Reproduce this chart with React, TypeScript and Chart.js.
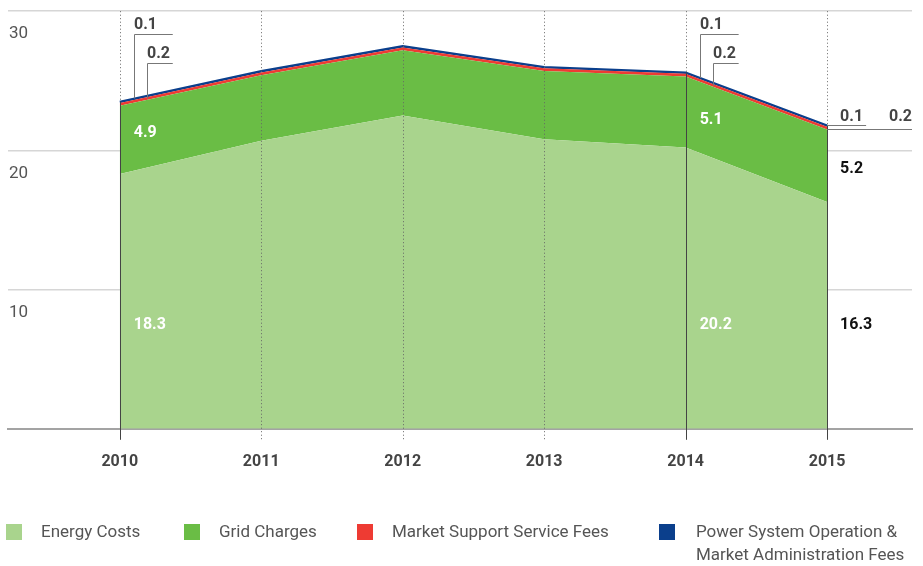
import React, { useEffect, useRef } from "react";
import { Chart, registerables } from "chart.js";

Chart.register(...registerables);

// ---- data ----
const YEARS = [2010, 2011, 2012, 2013, 2014, 2015];
const ENERGY_COSTS = [18.3, 20.7, 22.5, 20.8, 20.2, 16.3];
const GRID_CHARGES = [4.9, 4.7, 4.7, 4.9, 5.1, 5.2];
const MARKET_SUPPORT_FEES = [0.2, 0.2, 0.2, 0.2, 0.2, 0.2];
const POWER_SYSTEM_FEES = [0.1, 0.1, 0.1, 0.1, 0.1, 0.1];
const SERIES_NAMES = [
  "Energy Costs",
  "Grid Charges",
  "Market Support Service Fees",
  "Power System Operation & Market Administration Fees",
];
const LEGEND_LINES = [
  ["Energy Costs"],
  ["Grid Charges"],
  ["Market Support Service Fees"],
  ["Power System Operation &", "Market Administration Fees"],
];
const Y_TICKS = [0, 10, 20, 30];
const LABELED_YEARS = [2010, 2014, 2015];
const COLORS = ["#a9d48d", "#6abd45", "#ee3b33", "#0b3f8c"];

const FONT = "Roboto";

function stackTop(i: number, upto: number) {
  const s = [ENERGY_COSTS, GRID_CHARGES, MARKET_SUPPORT_FEES, POWER_SYSTEM_FEES];
  let v = 0;
  for (let k = 0; k <= upto; k++) v += s[k][i];
  return v;
}

const overlayPlugin = {
  id: "overlay",
  afterDatasetsDraw(chart: any) {
    const { ctx, chartArea: ca, scales } = chart;
    const xs = scales.x;
    const ys = scales.y;
    const pxOf = (i: number) => xs.getPixelForValue(YEARS[i]);
    const interp = (level: number, xp: number, extra = 0) => {
      for (let i = 0; i < YEARS.length - 1; i++) {
        const a = pxOf(i), b = pxOf(i + 1);
        if (xp >= a && xp <= b) {
          const va = stackTop(i, level) + extra;
          const vb = stackTop(i + 1, level) + extra;
          const t = (xp - a) / (b - a);
          return ys.getPixelForValue(va + (vb - va) * t);
        }
      }
      return ys.getPixelForValue(stackTop(YEARS.length - 1, level) + extra);
    };

    ctx.save();
    // vertical year lines
    YEARS.forEach((yr, i) => {
      const px = Math.round(pxOf(i)) + 0.5;
      const topPx = ys.getPixelForValue(stackTop(i, 3));
      const labeled = LABELED_YEARS.includes(yr);
      ctx.lineWidth = 1;
      ctx.strokeStyle = "#666";
      ctx.setLineDash([1, 2.5]);
      ctx.beginPath();
      ctx.moveTo(px, ca.top);
      ctx.lineTo(px, labeled ? topPx : ca.bottom + 11);
      ctx.stroke();
      if (labeled) {
        ctx.setLineDash([]);
        ctx.strokeStyle = "#444";
        ctx.beginPath();
        ctx.moveTo(px, topPx);
        ctx.lineTo(px, ca.bottom + 11);
        ctx.stroke();
      }
    });
    ctx.setLineDash([]);

    ctx.font = `bold 16px ${FONT}`;
    ctx.textBaseline = "alphabetic";
    YEARS.forEach((yr, i) => {
      if (!LABELED_YEARS.includes(yr)) return;
      const px = pxOf(i);
      const last = i === YEARS.length - 1;
      const pso = POWER_SYSTEM_FEES[i].toFixed(1);
      const mss = MARKET_SUPPORT_FEES[i].toFixed(1);
      ctx.strokeStyle = "#777";
      ctx.lineWidth = 1;
      if (!last) {
        const x1 = Math.round(px + 14) + 0.5;
        const x2 = Math.round(px + 27) + 0.5;
        const xe = px + 53;
        const y1 = interp(3, x1);
        const y2 = interp(2, x2, -0.1);
        ctx.beginPath();
        ctx.moveTo(x1, y1);
        ctx.lineTo(x1, 34.5);
        ctx.lineTo(xe, 34.5);
        ctx.moveTo(x2, y2);
        ctx.lineTo(x2, 63.5);
        ctx.lineTo(xe, 63.5);
        ctx.stroke();
        ctx.fillStyle = "#444";
        ctx.textAlign = "left";
        ctx.fillText(pso, x1 - 0.5, 28.5);
        ctx.fillText(mss, x2 - 0.5, 58);
      } else {
        const yb = Math.round(ys.getPixelForValue(stackTop(i, 3))) + 0.5;
        const yr2 = Math.round(ys.getPixelForValue(stackTop(i, 2) - 0.1)) + 1.5;
        ctx.beginPath();
        ctx.moveTo(px, yb);
        ctx.lineTo(px + 39, yb);
        ctx.moveTo(px, yr2);
        ctx.lineTo(ca.right, yr2);
        ctx.stroke();
        ctx.fillStyle = "#444";
        ctx.textAlign = "left";
        ctx.fillText(pso, px + 13, yb - 5);
        ctx.textAlign = "right";
        ctx.fillText(mss, ca.right, yb - 5);
      }
      // inside value labels
      ctx.textAlign = "left";
      ctx.textBaseline = "middle";
      ctx.fillStyle = last ? "#111" : "#ffffff";
      const gridY = yr === 2010 ? 133 : yr === 2014 ? 120 : 169;
      ctx.fillText(GRID_CHARGES[i].toFixed(1), px + (last ? 13 : 14), gridY);
      ctx.fillText(ENERGY_COSTS[i].toFixed(1), px + (last ? 13 : 14), 325);
      ctx.textBaseline = "alphabetic";
    });
    ctx.restore();
  },
  afterDraw(chart: any) {
    const { ctx } = chart;
    const squareX = [6, 184, 357, 659];
    const textX = [41, 219, 392, 696];
    ctx.save();
    ctx.font = `17px ${FONT}`;
    ctx.textAlign = "left";
    ctx.textBaseline = "middle";
    LEGEND_LINES.forEach((lines, k) => {
      ctx.fillStyle = COLORS[k];
      ctx.fillRect(squareX[k], 524, 16, 16);
      ctx.fillStyle = "#555";
      lines.forEach((ln, j) => ctx.fillText(ln, textX[k], 533 + j * 23));
    });
    ctx.restore();
  },
};

export default function App() {
  const ref = useRef<HTMLCanvasElement | null>(null);
  useEffect(() => {
    if (!ref.current) return;
    const series = [ENERGY_COSTS, GRID_CHARGES, MARKET_SUPPORT_FEES, POWER_SYSTEM_FEES];
    const chart = new Chart(ref.current, {
      type: "line",
      data: {
        datasets: series.map((vals, k) => ({
          label: SERIES_NAMES[k],
          data: vals.map((v, i) => ({ x: YEARS[i], y: v })),
          backgroundColor: COLORS[k],
          borderColor: COLORS[k],
          borderWidth: k === 3 ? 2 : 0,
          fill: k === 0 ? "origin" : "-1",
          pointRadius: 0,
          tension: 0,
        })),
      },
      options: {
        animation: false,
        responsive: false,
        maintainAspectRatio: false,
        layout: { padding: { left: 6, right: 11, top: 7, bottom: 80 } },
        plugins: { legend: { display: false }, tooltip: { enabled: false } },
        scales: {
          x: {
            type: "linear",
            min: 2009.21,
            max: 2015.6,
            afterBuildTicks: (s: any) => {
              s.ticks = YEARS.map((v) => ({ value: v }));
            },
            grid: {
              display: true,
              drawOnChartArea: false,
              drawTicks: true,
              tickLength: 10,
              color: "rgba(0,0,0,0)",
            },
            border: { display: true, color: "#a3a3a3", width: 2 },
            ticks: {
              padding: 14,
              autoSkip: false,
              maxRotation: 0,
              color: "#444",
              font: { family: FONT, size: 16, weight: "bold" },
              callback: (v: any) => String(v),
            },
          },
          y: {
            type: "linear",
            stacked: true,
            min: 0,
            max: 30,
            afterBuildTicks: (s: any) => {
              s.ticks = Y_TICKS.map((v) => ({ value: v }));
            },
            grid: { color: "#d6d6d6", lineWidth: 1.5, drawTicks: false },
            border: { display: false },
            ticks: {
              mirror: true,
              padding: 1,
              labelOffset: 23,
              color: "#555",
              font: { family: FONT, size: 17 },
              callback: (v: any) => (v === 0 ? "" : String(v)),
            },
          },
        },
      },
      plugins: [overlayPlugin],
    } as any);
    return () => chart.destroy();
  }, []);
  return (
    <div style={{ position: "fixed", left: 0, top: 0, width: 923, height: 566, background: "#fff" }}>
      <canvas ref={ref} width={923} height={566} style={{ width: 923, height: 566, display: "block" }} />
    </div>
  );
}
